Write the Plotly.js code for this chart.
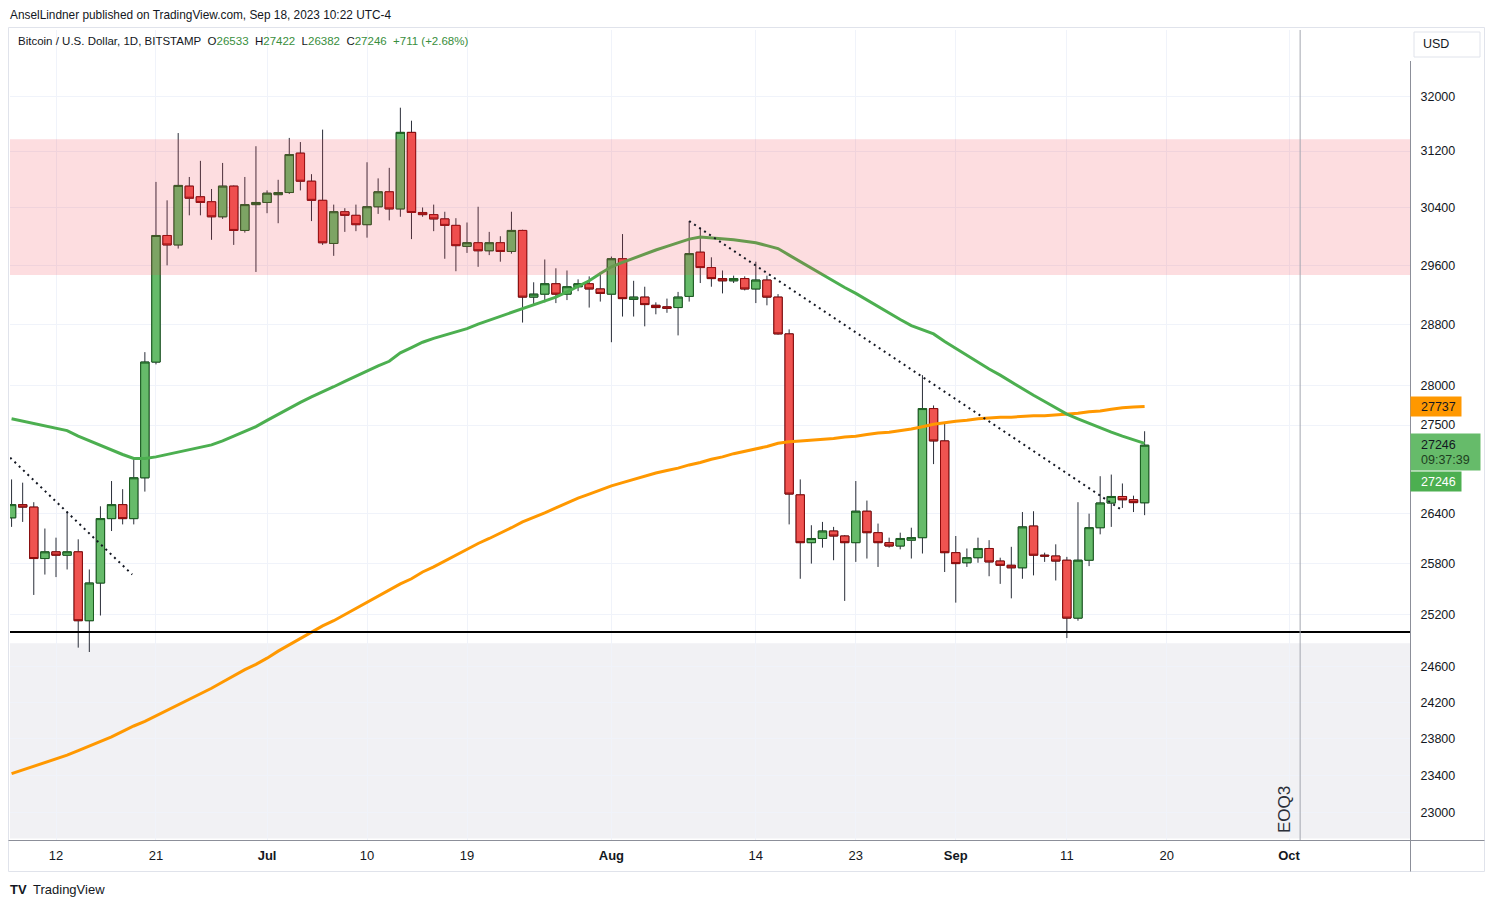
<!DOCTYPE html>
<html><head><meta charset="utf-8">
<script src="https://cdn.plot.ly/plotly-3.0.1.min.js"></script>
<style>html,body{margin:0;padding:0;background:#fff;}#chart{width:1494px;height:907px;}</style>
</head><body><div id="chart"></div>
<script>
const dates = ['2023-06-08','2023-06-09','2023-06-10','2023-06-11','2023-06-12','2023-06-13','2023-06-14','2023-06-15','2023-06-16','2023-06-17',
'2023-06-18','2023-06-19','2023-06-20','2023-06-21','2023-06-22','2023-06-23','2023-06-24','2023-06-25','2023-06-26','2023-06-27',
'2023-06-28','2023-06-29','2023-06-30','2023-07-01','2023-07-02','2023-07-03','2023-07-04','2023-07-05','2023-07-06','2023-07-07',
'2023-07-08','2023-07-09','2023-07-10','2023-07-11','2023-07-12','2023-07-13','2023-07-14','2023-07-15','2023-07-16','2023-07-17',
'2023-07-18','2023-07-19','2023-07-20','2023-07-21','2023-07-22','2023-07-23','2023-07-24','2023-07-25','2023-07-26','2023-07-27',
'2023-07-28','2023-07-29','2023-07-30','2023-07-31','2023-08-01','2023-08-02','2023-08-03','2023-08-04','2023-08-05','2023-08-06',
'2023-08-07','2023-08-08','2023-08-09','2023-08-10','2023-08-11','2023-08-12','2023-08-13','2023-08-14','2023-08-15','2023-08-16',
'2023-08-17','2023-08-18','2023-08-19','2023-08-20','2023-08-21','2023-08-22','2023-08-23','2023-08-24','2023-08-25','2023-08-26',
'2023-08-27','2023-08-28','2023-08-29','2023-08-30','2023-08-31','2023-09-01','2023-09-02','2023-09-03','2023-09-04','2023-09-05',
'2023-09-06','2023-09-07','2023-09-08','2023-09-09','2023-09-10','2023-09-11','2023-09-12','2023-09-13','2023-09-14','2023-09-15',
'2023-09-16','2023-09-17','2023-09-18'];

const open = [26350,26510,26480,25860,25940,25900,25940,25130,25570,26340,
26510,26340,26840,28310,30010,29880,30700,30550,30480,30270,
30700,30080,30440,30470,30580,30610,31170,30770,30500,29900,
30340,30290,30160,30410,30620,30380,31470,30330,30300,30240,
30150,29860,29910,29800,29910,29790,30080,29170,29210,29350,
29210,29310,29350,29280,29210,29690,29140,29170,29060,29040,
29030,29180,29780,29570,29420,29390,29420,29280,29400,29170,
28680,26630,26050,26100,26190,26130,26050,26430,26170,26050,
26010,26080,26110,27710,27300,25930,25810,25870,25980,25830,
25780,25750,26250,25900,25890,25840,25160,25840,26230,26530,
26610,26570,26533];
const high = [26820,26780,26540,26220,26110,26430,26090,25730,26490,26800,
26700,27080,28440,30760,30500,31460,30830,31060,30660,31030,
30710,30830,31270,30640,30790,31390,31330,30870,31510,30440,
30390,30440,31040,30810,30960,31830,31640,30400,30440,30340,
30250,30190,30410,30060,30000,30340,30090,29370,29680,29560,
29530,29410,29450,29510,29720,30030,29390,29310,29100,29150,
29240,30210,30120,29710,29530,29460,29450,29650,29460,29210,
28740,26820,26260,26300,26240,26140,26800,26560,26280,26110,
26170,26230,28140,27750,27530,26130,25980,26110,26080,25870,
26000,26420,26430,25930,26030,25880,26540,26400,26860,26880,
26770,26620,27422];
const low = [26240,26300,25430,25670,25640,25730,24820,24770,25190,26190,
26270,26270,26670,28280,29600,29830,30290,30290,29950,30240,
29880,30050,29510,30320,30180,30590,30640,30210,29880,29730,
30060,30070,29980,30310,30220,30270,29960,30270,30070,29690,
29520,29770,29580,29740,29650,29760,28830,29060,29100,29090,
29130,29250,29030,29110,28570,28910,28910,28780,28940,28960,
28660,29110,29360,29310,29220,29360,29260,29090,29060,28670,
26270,25620,25800,25990,25840,25360,25820,25860,25760,25990,
25970,25860,25920,27010,25700,25340,25760,25810,25650,25560,
25390,25620,25660,25820,25600,24930,25130,25770,26150,26240,
26470,26420,26382];
const close = [26510,26480,25860,25940,25900,25940,25130,25570,26340,26510,
26340,26840,28310,30010,29880,30710,30530,30470,30270,30700,
30080,30440,30470,30600,30610,31150,30770,30500,29910,30340,
30290,30160,30410,30620,30380,31470,30330,30300,30240,30150,
29870,29910,29800,29910,29790,30080,29170,29210,29350,29210,
29310,29350,29280,29220,29690,29150,29170,29070,29030,29020,
29170,29760,29570,29420,29390,29420,29280,29400,29170,28680,
26640,26050,26100,26190,26130,26050,26430,26170,26050,26010,
26100,26110,27710,27300,25930,25800,25870,25980,25820,25780,
25750,26240,25900,25890,25830,25160,25840,26230,26530,26610,
26570,26535,27246];

// 50-day style moving average (green) and 200-day style moving average (orange)
const greenMA = [27580,27550,27520,27490,27460,27430,27360,27300,27250,27190,
27130,27080,27080,27100,27130,27160,27190,27220,27250,27300,
27360,27410,27480,27560,27640,27720,27790,27860,27920,27990,
28060,28130,28190,28260,28320,28430,28500,28570,28620,28660,
28710,28750,28810,28860,28910,28960,29010,29060,29110,29170,
29240,29310,29390,29490,29580,29640,29700,29760,29810,29860,
29910,29960,29990,29980,29970,29950,29930,29910,29870,29830,
29740,29650,29560,29480,29390,29300,29220,29130,29050,28960,
28870,28790,28730,28680,28580,28490,28390,28300,28220,28140,
28050,27970,27880,27800,27720,27640,27580,27520,27460,27410,
27360,27310,27270];
const orangeMA = [23420,23460,23500,23540,23580,23620,23670,23720,23770,23820,
23880,23940,23990,24050,24110,24170,24230,24290,24360,24430,
24500,24570,24630,24700,24780,24850,24920,25000,25070,25130,
25200,25280,25350,25420,25490,25560,25620,25700,25760,25830,
25900,25970,26040,26100,26170,26230,26300,26360,26410,26470,
26530,26590,26640,26690,26740,26780,26820,26860,26900,26930,
26960,27000,27030,27070,27100,27140,27170,27200,27230,27270,
27290,27300,27310,27320,27330,27350,27360,27380,27400,27410,
27430,27450,27480,27510,27530,27550,27560,27580,27590,27600,
27600,27610,27620,27620,27630,27640,27650,27670,27680,27700,
27720,27730,27737];

// drawn levels / zones (prices) and trendline anchors
const resistanceZone = [29470, 31370];
const lowerZone = [22730, 24870];
const supportLevel = 25000;
const trend1Dates = ['2023-06-07 21:00', '2023-06-18 20:40'];
const trend1Prices = [27090, 25670];
const trend2Dates = ['2023-08-08 00:00', '2023-09-15 18:30'];
const trend2Prices = [30210, 26460];
const eoqDate = '2023-10-02';

// axis ticks
const yTickVals = [23000,23400,23800,24200,24600,25200,25800,26400,27500,28000,28800,29600,30400,31200,32000];
const xTickVals = ['2023-06-12','2023-06-21','2023-07-01','2023-07-10','2023-07-19','2023-08-01','2023-08-14','2023-08-23','2023-09-01','2023-09-11','2023-09-20','2023-10-01'];
const xTickText = ['12','21','<b>Jul</b>','10','19','<b>Aug</b>','14','23','<b>Sep</b>','11','20','<b>Oct</b>'];

const countdown = '09:37:39';

// ---------- layout helpers (pixel -> paper) ----------
const PL = 10, PR = 1410, PT = 30, PB = 840;
const px = x => (x - PL) / (PR - PL);
const py = y => (PB - y) / (PB - PT);

const FONT = 'Liberation Sans, Arial, sans-serif';
const TXT = '#131722';
const GREEN_TXT = '#388e3c';

const bodyHigh = open.map((o, i) => Math.max(o, close[i]));
const bodyLow = open.map((o, i) => Math.min(o, close[i]));

const traces = [
  { type: 'candlestick', x: dates, open: open, high: high, low: low, close: close,
    increasing: { line: { color: '#2a2e39', width: 1 }, fillcolor: '#66bb6a' },
    decreasing: { line: { color: '#2a2e39', width: 1 }, fillcolor: '#ef5350' },
    hoverinfo: 'skip', showlegend: false },
  { type: 'candlestick', x: dates, open: open, high: bodyHigh, low: bodyLow, close: close,
    increasing: { line: { color: '#1b5e20', width: 1 }, fillcolor: '#66bb6a' },
    decreasing: { line: { color: '#8b0a0a', width: 1 }, fillcolor: '#ef5350' },
    hoverinfo: 'skip', showlegend: false },
  { type: 'scatter', mode: 'lines', x: dates, y: orangeMA, line: { color: '#ff9800', width: 3 }, hoverinfo: 'skip', showlegend: false },
  { type: 'scatter', mode: 'lines', x: dates, y: greenMA, line: { color: '#4caf50', width: 3 }, hoverinfo: 'skip', showlegend: false }
];

const last = close.length - 1;
const chg = close[last] - close[last - 1];
const chgPct = (chg / close[last - 1] * 100).toFixed(2);
const g = v => '<span style="color:' + GREEN_TXT + '">' + v + '</span>';
const sp = '\u00a0\u00a0';
const header2 = 'Bitcoin / U.S. Dollar, 1D, BITSTAMP' + sp + 'O' + g(open[last]) + sp + 'H' + g(high[last]) + sp +
  'L' + g(low[last]) + sp + 'C' + g(close[last]) + sp + g((chg >= 0 ? '+' : '') + chg + ' (' + (chg >= 0 ? '+' : '') + chgPct + '%)');

const shapes = [
  { type: 'rect', xref: 'paper', yref: 'y', x0: 0, x1: 1, y0: lowerZone[0], y1: lowerZone[1], fillcolor: '#f1f1f4', line: { width: 0 }, layer: 'below' },
  { type: 'rect', xref: 'paper', yref: 'y', x0: 0, x1: 1, y0: resistanceZone[0], y1: resistanceZone[1], fillcolor: 'rgba(242,54,69,0.17)', line: { width: 0 }, layer: 'above' },
  { type: 'line', xref: 'paper', yref: 'y', x0: 0, x1: 1, y0: supportLevel, y1: supportLevel, line: { color: '#000000', width: 2 }, layer: 'above' },
  { type: 'line', xref: 'x', yref: 'y', x0: trend1Dates[0], x1: trend1Dates[1], y0: trend1Prices[0], y1: trend1Prices[1], line: { color: '#131722', width: 2, dash: '2px,4px' }, layer: 'above' },
  { type: 'line', xref: 'x', yref: 'y', x0: trend2Dates[0], x1: trend2Dates[1], y0: trend2Prices[0], y1: trend2Prices[1], line: { color: '#131722', width: 2, dash: '2px,4px' }, layer: 'above' },
  { type: 'line', xref: 'x', yref: 'paper', x0: eoqDate, x1: eoqDate, y0: 0, y1: 1, line: { color: '#a3a6af', width: 1 }, layer: 'above' },
  // frame and separators
  { type: 'rect', xref: 'paper', yref: 'paper', x0: px(8.5), x1: px(1484.5), y0: py(871.5), y1: py(27.5), line: { color: '#e0e3eb', width: 1 }, fillcolor: 'rgba(0,0,0,0)' },
  { type: 'line', xref: 'paper', yref: 'paper', x0: px(8.5), x1: px(1484.5), y0: py(840.5), y1: py(840.5), line: { color: '#8c8f99', width: 1 } },
  { type: 'line', xref: 'paper', yref: 'paper', x0: px(1410.5), x1: px(1410.5), y0: py(871.5), y1: py(61), line: { color: '#8c8f99', width: 1 } },
  // USD box
  { type: 'rect', xref: 'paper', yref: 'paper', x0: px(1414), x1: px(1480), y0: py(57), y1: py(32), line: { color: '#e0e3eb', width: 1 }, fillcolor: '#ffffff' },
  // price label boxes
  { type: 'rect', xref: 'paper', yref: 'paper', x0: px(1410.5), x1: px(1461.5), y0: py(416.5), y1: py(396.5), line: { width: 0 }, fillcolor: '#ff9800' },
  { type: 'rect', xref: 'paper', yref: 'paper', x0: px(1410.5), x1: px(1480.5), y0: py(470.5), y1: py(433.5), line: { width: 0 }, fillcolor: '#66bb6a' },
  { type: 'rect', xref: 'paper', yref: 'paper', x0: px(1410.5), x1: px(1461.5), y0: py(491.5), y1: py(471.5), line: { width: 0 }, fillcolor: '#4caf50' }
];

const ann = (x, y, text, opts) => Object.assign({ xref: 'paper', yref: 'paper', x: px(x), y: py(y), text: text, showarrow: false,
  xanchor: 'left', yanchor: 'middle', font: { family: FONT, size: 12, color: TXT } }, opts || {});

const annotations = [
  ann(8, 15, 'AnselLindner published on TradingView.com, Sep 18, 2023 10:22 UTC-4', { font: { family: FONT, size: 11.85, color: TXT } }),
  ann(16, 41, header2, { font: { family: FONT, size: 11.5, color: TXT } }),
  ann(1284, 810, 'EOQ3', { xanchor: 'center', textangle: -90, font: { family: FONT, size: 17, color: '#2a2e39' } }),
  ann(8, 889, '<b>TV</b>', { font: { family: FONT, size: 13, color: '#131722' } }),
  ann(31, 889, 'TradingView', { font: { family: FONT, size: 13, color: '#131722' } }),
  ann(1421, 44, 'USD', { font: { family: FONT, size: 12.5, color: TXT } }),
  ann(1419, 406.5, String(Math.round(orangeMA[last])), { font: { family: FONT, size: 12.5, color: TXT } }),
  ann(1419, 445, String(close[last]), { font: { family: FONT, size: 12.5, color: TXT } }),
  ann(1419, 460, countdown, { font: { family: FONT, size: 12.5, color: '#1e3f21' } }),
  ann(1419, 482, String(close[last]), { font: { family: FONT, size: 12.5, color: '#ffffff' } })
];

const layout = {
  width: 1494, height: 907,
  margin: { l: PL, r: 1494 - PR, t: PT, b: 907 - PB, pad: 0 },
  paper_bgcolor: '#ffffff', plot_bgcolor: '#ffffff',
  showlegend: false, hovermode: false,
  boxgap: 0.25, boxgroupgap: 0, boxmode: 'overlay',
  font: { family: FONT, size: 12, color: TXT },
  xaxis: {
    type: 'date', range: ['2023-06-07 20:37', '2023-10-11 21:22'],
    rangeslider: { visible: false },
    tickmode: 'array', tickvals: xTickVals, ticktext: xTickText,
    showgrid: true, gridcolor: '#f0f3fa', gridwidth: 1,
    showline: false, zeroline: false,
    ticks: 'outside', ticklen: 3, tickcolor: 'rgba(0,0,0,0)',
    tickfont: { family: FONT, size: 13, color: TXT }, fixedrange: true
  },
  yaxis: {
    type: 'log', side: 'right',
    range: [Math.log10(22715), Math.log10(32990)],
    tickmode: 'array', tickvals: yTickVals, ticktext: yTickVals.map(String),
    showgrid: true, gridcolor: '#f0f3fa', gridwidth: 1,
    showline: false, zeroline: false,
    ticks: 'outside', ticklen: 7, tickcolor: 'rgba(0,0,0,0)',
    tickfont: { family: FONT, size: 12.5, color: TXT }, fixedrange: true
  },
  shapes: shapes,
  annotations: annotations
};

Plotly.newPlot('chart', traces, layout, { displayModeBar: false, staticPlot: true });
</script>
</body></html>
